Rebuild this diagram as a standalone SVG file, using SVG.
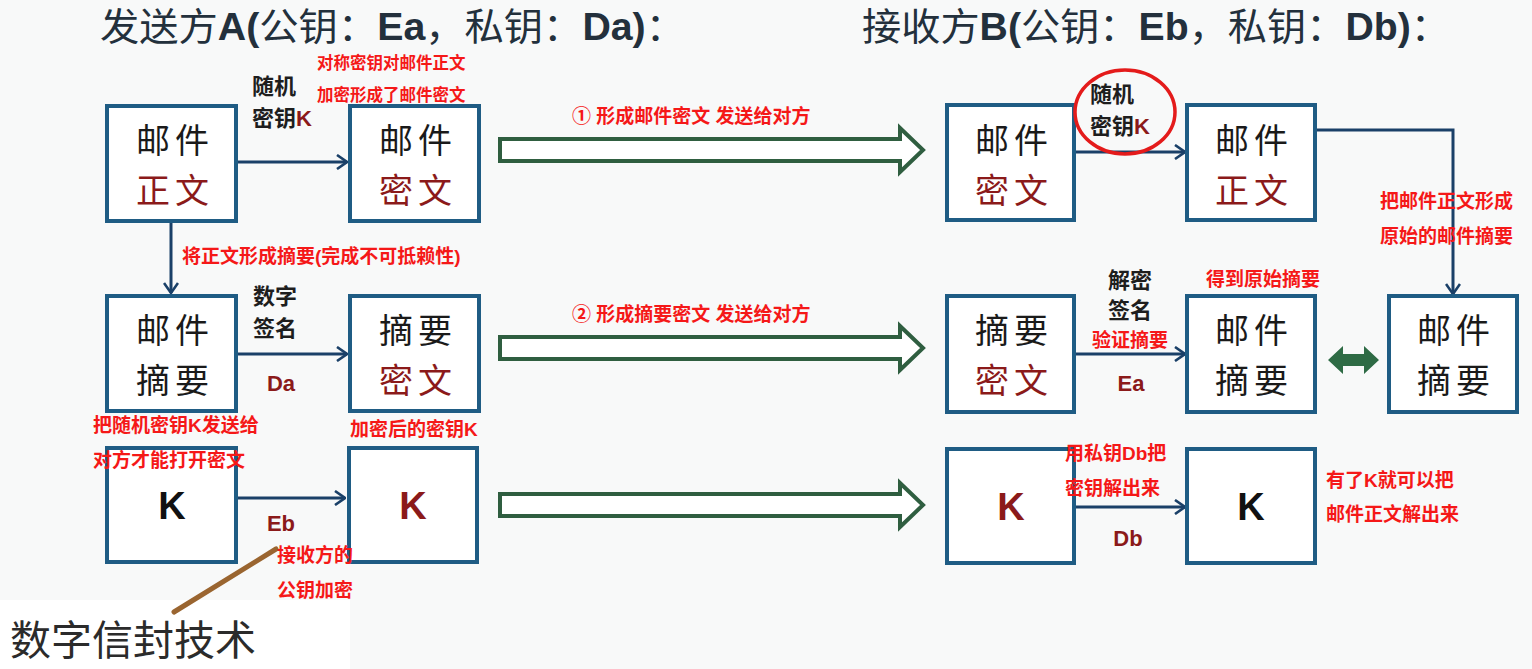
<svg xmlns="http://www.w3.org/2000/svg" width="1532" height="669" viewBox="0 0 1532 669">
<style>
.box{fill:#ffffff;stroke:#1f5c84;stroke-width:4}
.bt{font-family:"Noto Sans CJK SC",sans-serif;font-size:34px;letter-spacing:5px;text-anchor:middle;fill:#1a1a1a}
.dr{fill:#8b1a1a}
.kk{font-family:"Liberation Sans",Arial,sans-serif;font-weight:bold;font-size:38px;text-anchor:middle}
.lab{font-family:"Noto Sans CJK SC",sans-serif;font-weight:bold;font-size:22px;fill:#1e1e1e}
.key{font-family:"Liberation Sans",Arial,sans-serif;font-weight:bold;font-size:22px;fill:#8b1a1a;text-anchor:middle}
.red{font-family:"Liberation Sans","Noto Sans CJK SC",sans-serif;font-weight:bold;font-size:19px;fill:#f51818}
.red17{font-family:"Liberation Sans","Noto Sans CJK SC",sans-serif;font-weight:bold;font-size:16.5px;fill:#f51818}
.title{font-family:"Liberation Sans","Noto Sans CJK SC",sans-serif;font-size:38px;fill:#23303c}
.b{font-weight:bold}
.conn{fill:none;stroke:#1a4068;stroke-width:3}
.big{fill:#ffffff;stroke:#2f5e40;stroke-width:4;stroke-linejoin:miter}
</style>
<defs>
<marker id="ah" viewBox="0 0 12 16" refX="11" refY="8" markerWidth="12" markerHeight="16" markerUnits="userSpaceOnUse" orient="auto">
<path d="M1,1 L11,8 L1,15" fill="none" stroke="#1a4068" stroke-width="2.6"/>
</marker>
</defs>
<rect x="0" y="0" width="1532" height="669" fill="#f8f9f9"/>
<rect x="0" y="600" width="350" height="69" fill="#ffffff"/>

<!-- titles -->
<text class="title" x="100" y="40" textLength="585" lengthAdjust="spacingAndGlyphs">发送方<tspan class="b">A(</tspan>公钥：<tspan class="b">Ea</tspan>，私钥：<tspan class="b">Da)</tspan>：</text>
<text class="title" x="862" y="40" textLength="588" lengthAdjust="spacingAndGlyphs">接收方<tspan class="b">B(</tspan>公钥：<tspan class="b">Eb</tspan>，私钥：<tspan class="b">Db)</tspan>：</text>

<!-- connectors -->
<g id="connectors">
<line class="conn" x1="237" y1="162" x2="347" y2="162" marker-end="url(#ah)"/>
<line class="conn" x1="171" y1="222" x2="171" y2="293" marker-end="url(#ah)"/>
<line class="conn" x1="237" y1="354" x2="347" y2="354" marker-end="url(#ah)"/>
<line class="conn" x1="237" y1="498" x2="345" y2="498" marker-end="url(#ah)"/>
<line class="conn" x1="1075" y1="152" x2="1185" y2="152" marker-end="url(#ah)"/>
<path class="conn" d="M1315,130 H1453 V294" marker-end="url(#ah)"/>
<line class="conn" x1="1075" y1="354" x2="1185" y2="354" marker-end="url(#ah)"/>
<line class="conn" x1="1075" y1="507" x2="1185" y2="507" marker-end="url(#ah)"/>
<path class="big" d="M500,139 H900 V128 L923,150 L900,172 V161 H500 Z"/>
<path class="big" d="M500,337 H900 V326 L923,348 L900,370 V359 H500 Z"/>
<path class="big" d="M500,494 H900 V483 L923,505 L900,527 V516 H500 Z"/>
<path d="M1328,360 L1343,346 V354 H1364 V346 L1379,360 L1364,374 V366 H1343 V374 Z" fill="#2e6b45"/>
<line x1="174" y1="612" x2="276" y2="549" stroke="#9a6530" stroke-width="5" stroke-linecap="round"/>
</g>

<!-- sender nodes -->
<g id="a_mail_plain"><rect class="box" x="107" y="106" width="129" height="115"/><text class="bt" x="175" y="153">邮件</text><text class="bt dr" x="175" y="203">正文</text></g>
<g id="a_mail_cipher"><rect class="box" x="350" y="106" width="129" height="115"/><text class="bt" x="418" y="153">邮件</text><text class="bt dr" x="418" y="203">密文</text></g>
<g id="a_digest"><rect class="box" x="107" y="296" width="129" height="115"/><text class="bt" x="175" y="343">邮件</text><text class="bt" x="175" y="393">摘要</text></g>
<g id="a_digest_cipher"><rect class="box" x="350" y="296" width="129" height="115"/><text class="bt" x="418" y="343">摘要</text><text class="bt dr" x="418" y="393">密文</text></g>
<g id="a_k"><rect class="box" x="107" y="448" width="129" height="114"/><text class="kk" x="172" y="519" fill="#111">K</text></g>
<g id="a_k_enc"><rect class="box" x="349" y="448" width="128" height="114"/><text class="kk" x="413" y="519" fill="#8b1a1a">K</text></g>

<!-- receiver nodes -->
<g id="b_mail_cipher"><rect class="box" x="947" y="105" width="127" height="115"/><text class="bt" x="1014" y="153">邮件</text><text class="bt dr" x="1014" y="203">密文</text></g>
<g id="b_mail_plain"><rect class="box" x="1187" y="105" width="128" height="115"/><text class="bt" x="1254" y="153">邮件</text><text class="bt dr" x="1254" y="203">正文</text></g>
<g id="b_digest_cipher"><rect class="box" x="947" y="296" width="127" height="116"/><text class="bt" x="1014" y="343">摘要</text><text class="bt dr" x="1014" y="393">密文</text></g>
<g id="b_digest"><rect class="box" x="1187" y="296" width="128" height="116"/><text class="bt" x="1254" y="343">邮件</text><text class="bt" x="1254" y="393">摘要</text></g>
<g id="b_digest_orig"><rect class="box" x="1389" y="296" width="128" height="116"/><text class="bt" x="1456" y="343">邮件</text><text class="bt" x="1456" y="393">摘要</text></g>
<g id="b_k_enc"><rect class="box" x="947" y="449" width="127" height="114"/><text class="kk" x="1011" y="520" fill="#8b1a1a">K</text></g>
<g id="b_k"><rect class="box" x="1187" y="449" width="128" height="114"/><text class="kk" x="1251" y="520" fill="#111">K</text></g>

<!-- black labels -->
<text class="lab" x="252" y="94">随机</text>
<text class="lab" x="252" y="126">密钥<tspan fill="#8b1a1a" font-family="Liberation Sans,Arial,sans-serif">K</tspan></text>
<text class="lab" x="253" y="304">数字</text>
<text class="lab" x="253" y="336">签名</text>
<text class="key" x="281" y="391">Da</text>
<text class="key" x="281" y="531">Eb</text>
<ellipse cx="1125" cy="112" rx="50" ry="42" fill="none" stroke="#e41b1b" stroke-width="3.5"/>
<text class="lab" x="1090" y="102">随机</text>
<text class="lab" x="1090" y="134">密钥<tspan fill="#8b1a1a" font-family="Liberation Sans,Arial,sans-serif">K</tspan></text>
<text class="lab" x="1108" y="288" font-size="20">解密</text>
<text class="lab" x="1108" y="318" font-size="20">签名</text>
<text class="key" x="1131" y="391">Ea</text>
<text class="key" x="1128" y="546">Db</text>

<!-- red annotations -->
<text class="red17" x="317" y="69">对称密钥对邮件正文</text>
<text class="red17" x="317" y="101">加密形成了邮件密文</text>
<text class="red" x="572" y="123">① 形成邮件密文 发送给对方</text>
<text class="red" x="182" y="263">将正文形成摘要(完成不可抵赖性)</text>
<text class="red" x="572" y="321">② 形成摘要密文 发送给对方</text>
<text class="red" x="93" y="432">把随机密钥K发送给</text>
<text class="red" x="93" y="467">对方才能打开密文</text>
<text class="red" x="350" y="436">加密后的密钥K</text>
<text class="red" x="277" y="562">接收方的</text>
<text class="red" x="277" y="597">公钥加密</text>
<text class="red" x="1380" y="208">把邮件正文形成</text>
<text class="red" x="1380" y="243">原始的邮件摘要</text>
<text class="red" x="1206" y="286">得到原始摘要</text>
<text class="red" x="1092" y="347">验证摘要</text>
<text class="red" x="1065" y="460">用私钥Db把</text>
<text class="red" x="1065" y="495">密钥解出来</text>
<text class="red" x="1326" y="487">有了K就可以把</text>
<text class="red" x="1326" y="521">邮件正文解出来</text>

<text x="10" y="655" font-family="Noto Sans CJK SC,sans-serif" font-size="41" fill="#2b2b2b">数字信封技术</text>
</svg>
